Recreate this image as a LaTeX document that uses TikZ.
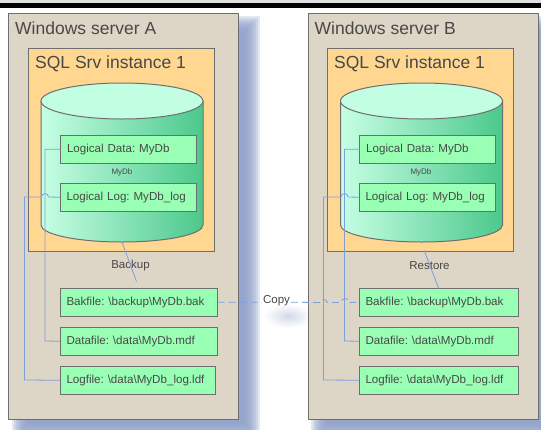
\documentclass[tikz,border=0pt]{standalone}
\usepackage{fontspec}
\setmainfont{Liberation Sans}
\usetikzlibrary{positioning}
\definecolor{servercol}{HTML}{DDD5C6}
\definecolor{instcol}{HTML}{FFD791}
\definecolor{filecol}{HTML}{99FFB4}
\definecolor{linecol}{HTML}{7F9FDC}
\definecolor{edgecol}{HTML}{6E6E6E}
\definecolor{textcol}{HTML}{484848}
\definecolor{shadowcol}{HTML}{8FA0CA}
\definecolor{drumtop}{HTML}{C2FFE2}
\definecolor{drumleft}{HTML}{C6FFE4}
\definecolor{drumright}{HTML}{4CC88C}
\begin{document}
\begin{tikzpicture}[x=1pt,y=-1pt,
box/.style={draw=edgecol,line width=1pt,outer sep=0pt},
title/.style={anchor=west,inner sep=0pt,text=textcol,font=\fontsize{17.5}{20}\selectfont},
filebox/.style={box,fill=filecol,anchor=north west,minimum height=27.5pt,inner ysep=0pt,inner xsep=6.5pt,
text=textcol,font=\fontsize{11.6}{14}\selectfont\frenchspacing,align=left},
small/.style={inner sep=0pt,text=textcol,font=\fontsize{11.5}{13}\selectfont},
link/.style={linecol,line width=0.8pt},
drum/.style={left color=drumleft,right color=drumright}]
\clip (0,0) rectangle (541,429);
\fill[white] (0,0) rectangle (541,429);
\fill[black!12] (0,0) rectangle (541,3.3);
\fill[black] (0,3.3) rectangle (541,8.3);

% shadows
\foreach \g in {0,2,...,16} {
\fill[shadowcol,opacity=.25] (11.5+\g,16+\g) rectangle (259.5-\g,440-\g);
\fill[shadowcol,opacity=.25] (311+\g,16+\g) rectangle (559-\g,440-\g);
}
\shade[inner color=shadowcol!40,outer color=white] (288,316) ellipse (24 and 12);

% server A
\node[box,fill=servercol,anchor=north west,minimum width=230pt,minimum height=406pt,inner sep=0pt] (srvA) at (8.5,13) {};
\node[title] (srvtitleA) at (15,28.5) {Windows server A};
\node[box,fill=instcol,anchor=north west,minimum width=186pt,minimum height=203pt,inner sep=0pt] (instA) at (28.5,48) {};
\node[title] (insttitleA) at (35,63.5) {SQL Srv instance 1};
\path[box,drum] (41,101) -- (41,225) arc[start angle=180,end angle=0,x radius=81,y radius=17] -- (203,101) -- cycle;
\draw[box,fill=drumtop] (122,101) ellipse (81 and 18);
\node[small,font=\fontsize{8}{10}\selectfont] (dbA) at (122,172) {MyDb};
\node[filebox,text width=123pt] (ldataA) at (60.5,135.5) {Logical Data: MyDb};
\node[filebox,text width=123.5pt] (llogA) at (60,183.5) {Logical Log: MyDb\_log};
\node[filebox,text width=144.5pt] (bakA) at (60,288.5) {Bakfile: \textbackslash backup\textbackslash MyDb.bak};
\node[filebox,text width=144.5pt] (datA) at (60,327.5) {Datafile: \textbackslash data\textbackslash MyDb.mdf};
\node[filebox,text width=142.5pt] (logA) at (60,366.5) {Logfile: \textbackslash data\textbackslash MyDb\_log.ldf};
\coordinate (dbbottomA) at (122,242);
\coordinate (backupendA) at (136.5,281.5);
\node[small] (backupA) at (130.5,265.5) {Backup};
\draw[link] (ldataA.west) -| (45,341) -- (datA.west);
\draw[link] (llogA.west) -- (48.5,197) arc[start angle=0,end angle=-180,radius=3.5] -- (24.5,197) -- (24.5,380) -- (logA.west);
\draw[link] (dbbottomA) -- (backupendA);

% server B
\node[box,fill=servercol,anchor=north west,minimum width=230pt,minimum height=406pt,inner sep=0pt] (srvB) at (308,13) {};
\node[title] (srvtitleB) at (314.5,28.5) {Windows server B};
\node[box,fill=instcol,anchor=north west,minimum width=186pt,minimum height=203pt,inner sep=0pt] (instB) at (327.5,48) {};
\node[title] (insttitleB) at (334,63.5) {SQL Srv instance 1};
\path[box,drum] (340.5,101) -- (340.5,225) arc[start angle=180,end angle=0,x radius=81,y radius=17] -- (502.5,101) -- cycle;
\draw[box,fill=drumtop] (421.5,101) ellipse (81 and 18);
\node[small,font=\fontsize{8}{10}\selectfont] (dbB) at (421,172) {MyDb};
\node[filebox,text width=123pt] (ldataB) at (359.7,135.5) {Logical Data: MyDb};
\node[filebox,text width=123.5pt] (llogB) at (359,183.5) {Logical Log: MyDb\_log};
\node[filebox,text width=146pt] (bakB) at (359,288.5) {Bakfile: \textbackslash backup\textbackslash MyDb.bak};
\node[filebox,text width=146pt] (datB) at (359,327.5) {Datafile: \textbackslash data\textbackslash MyDb.mdf};
\node[filebox,text width=146pt] (logB) at (359,366.5) {Logfile: \textbackslash data\textbackslash MyDb\_log.ldf};
\coordinate (dbbottomB) at (424,250);
\node[small] (restoreB) at (429.5,265.5) {Restore};
\draw[link] (ldataB.west) -| (344.5,341) -- (datB.west);
\draw[link] (llogB.west) -- (348,197) arc[start angle=0,end angle=-180,radius=3.5] -- (323.5,197) -- (323.5,380) -- (logB.west);
\draw[link] (dbbottomB) -- (438.7,288.5);

% copy
\node[small,fill=white,inner xsep=1pt] (copy) at (276.5,300.5) {Copy};
\draw[link,dash pattern=on 7pt off 4pt] (bakA.east) -- (copy.west |- bakA.east) (copy.east |- bakB.west) -- (321,302.5) arc[start angle=180,end angle=360,radius=3] -- (341,302.5) arc[start angle=180,end angle=360,radius=4] -- (bakB.west);
\end{tikzpicture}
\end{document}
